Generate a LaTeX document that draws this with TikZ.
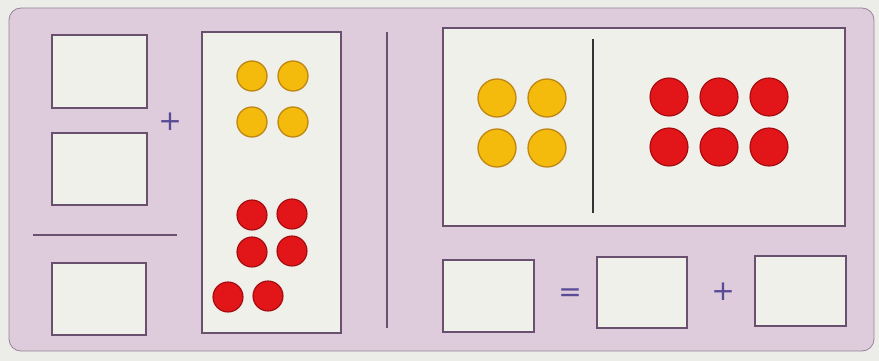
\documentclass[tikz,border=0pt]{standalone}
\usepackage{fontspec}
\setsansfont{DejaVu Sans}
\definecolor{bgout}{RGB}{236,236,232}
\definecolor{panel}{RGB}{222,204,220}
\definecolor{boxfill}{RGB}{240,240,234}
\definecolor{edge}{RGB}{105,80,110}
\definecolor{signc}{RGB}{90,75,150}
\definecolor{yel}{RGB}{244,186,12}
\definecolor{yeledge}{RGB}{190,135,20}
\definecolor{redd}{RGB}{226,22,24}
\definecolor{rededge}{RGB}{160,10,15}
\begin{document}
\begin{tikzpicture}[x=1pt,y=-1pt,
  ansbox/.style={draw=edge,line width=1.2pt,fill=boxfill,inner sep=0pt,minimum width=94pt,minimum height=72pt},
  ydot/.style={circle,inner sep=0pt,minimum size=#1,fill=yel,draw=yeledge,line width=1.3pt},
  rdot/.style={circle,inner sep=0pt,minimum size=#1,fill=redd,draw=rededge,line width=1.1pt},
  sign/.style={text=signc,font=\sffamily\fontsize{28}{28}\selectfont,inner sep=0pt}]
\useasboundingbox (0,0) rectangle (879,361);
\fill[bgout] (0,0) rectangle (879,361);
\draw[edge!70,line width=0.8pt,fill=panel,rounded corners=12pt] (9,8) rectangle (874,351);
% left column
\node[ansbox,minimum width=95pt,minimum height=73pt] (b1) at (99.5,71.5) {};
\node[ansbox,minimum width=95pt,minimum height=72pt] (b2) at (99.5,169) {};
\coordinate (l1) at (33,235);
\coordinate (l2) at (177,235);
\draw[edge,line width=1.2pt] (l1) -- (l2);
\node[ansbox,minimum width=94pt,minimum height=72pt] (b3) at (99,299) {};
\node[sign] (p1) at (170,122) {+};
% tall dot panel
\node[ansbox,minimum width=139pt,minimum height=301pt] (dp) at (271.5,182.5) {};
\foreach \x/\y [count=\i] in {252/76,293/76,252/122,293/122}
  \node[ydot=30pt] (ly\i) at (\x,\y) {};
\foreach \x/\y [count=\i] in {252/215,292/214,252/252,292/251,228/297,268/296}
  \node[rdot=30pt] (lr\i) at (\x,\y) {};
% divider
\coordinate (d1) at (387,32);
\coordinate (d2) at (387,328);
\draw[edge,line width=1.4pt] (d1) -- (d2);
% big right panel
\node[ansbox,minimum width=402pt,minimum height=198pt] (rp) at (644,127) {};
\coordinate (v1) at (593,39);
\coordinate (v2) at (593,213);
\draw[black!80,line width=1.2pt] (v1) -- (v2);
\foreach \x/\y [count=\i] in {497/98,547/98,497/148,547/148}
  \node[ydot=38pt] (ry\i) at (\x,\y) {};
\foreach \x/\y [count=\i] in {669/97,719/97,769/97,669/147,719/147,769/147}
  \node[rdot=38pt] (rr\i) at (\x,\y) {};
% bottom equation
\node[ansbox,minimum width=91pt,minimum height=72pt] (ea) at (488.5,296) {};
\node[sign] (eq) at (570,295) {=};
\node[ansbox,minimum width=90pt,minimum height=71pt] (eb) at (642,292.5) {};
\node[sign] (p2) at (723,292) {+};
\node[ansbox,minimum width=91pt,minimum height=70pt] (ec) at (800.5,291) {};
\end{tikzpicture}
\end{document}
